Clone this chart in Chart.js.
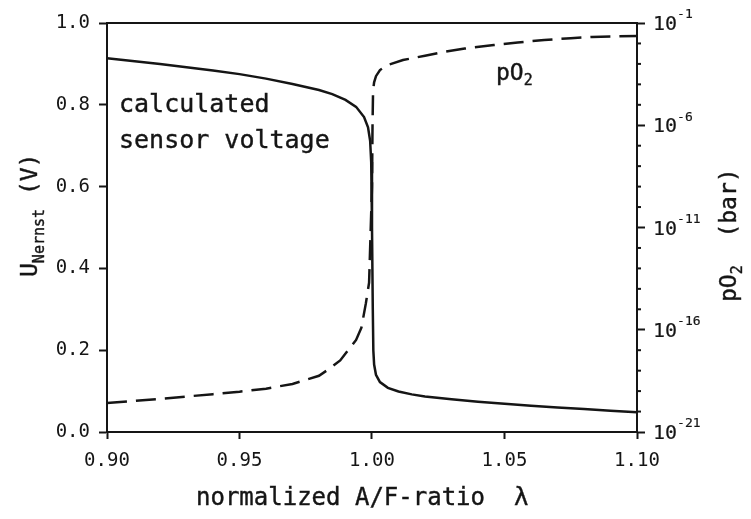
<!DOCTYPE html>
<html>
<head>
<meta charset="utf-8">
<script src="https://cdn.jsdelivr.net/npm/chart.js@4"></script>
<style>
    html, body { margin: 0; padding: 0; background: #fff; }
    #wrap { width: 751px; height: 519px; }
</style>
</head>
<body>
<div id="wrap"><canvas id="chart" width="751" height="519"></canvas></div>
<script>
// calculated sensor voltage (left axis, V)
const lambdaU = [0.900, 0.920, 0.940, 0.950, 0.960, 0.970, 0.980, 0.985, 0.990, 0.994, 0.997, 0.9985, 0.9993, 0.9997,
    1.0000, 1.0003, 1.0005, 1.0008, 1.0015, 1.0030, 1.006, 1.010, 1.015, 1.020, 1.030, 1.040, 1.050, 1.060, 1.070,
    1.080, 1.090, 1.100];
const voltage = [0.914, 0.900, 0.884, 0.875, 0.864, 0.851, 0.836, 0.826, 0.812, 0.795, 0.770, 0.745, 0.712, 0.66,
    0.50, 0.30, 0.20, 0.165, 0.140, 0.122, 0.108, 0.099, 0.092, 0.087, 0.080, 0.074, 0.069, 0.064, 0.060,
    0.056, 0.052, 0.048];

// oxygen partial pressure (right axis, log10 of bar)
const lambdaP = [0.900, 0.920, 0.940, 0.950, 0.960, 0.970, 0.980, 0.984, 0.988, 0.991, 0.994, 0.996, 0.9977, 0.9989,
    1.0000, 1.0002, 1.0004, 1.0008, 1.0015, 1.003, 1.006, 1.0117, 1.020, 1.027, 1.035, 1.046, 1.055, 1.065,
    1.075, 1.083, 1.090, 1.100];
const pO2Exp = [-19.58, -19.38, -19.15, -19.03, -18.88, -18.65, -18.25, -17.9, -17.5, -17.0, -16.5, -15.9, -14.7, -13.7,
    -9, -6, -4.3, -3.9, -3.6, -3.3, -3.05, -2.81, -2.6, -2.42, -2.25, -2.08, -1.95, -1.83,
    -1.74, -1.68, -1.66, -1.63];

const xTicks = [0.90, 0.95, 1.00, 1.05, 1.10];
const voltTicks = [0.0, 0.2, 0.4, 0.6, 0.8, 1.0];
const pO2Labelled = [-1, -6, -11, -16, -21];

const MONO = "'DejaVu Sans Mono', 'Liberation Mono', monospace";
const INK = "#151515";

function drawSubText(ctx, x, y, parts, stroke = 0.4) {
    // parts: [text, size, dy]
    let cx = x;
    ctx.lineWidth = stroke;
    for (const [text, size, dy] of parts) {
        ctx.font = `${size}px ${MONO}`;
        ctx.fillText(text, cx, y + dy);
        if (stroke) ctx.strokeText(text, cx, y + dy);
        cx += ctx.measureText(text).width;
    }
}

const decorations = {
    id: "decorations",
    afterDraw(chart) {
        const { ctx, chartArea: a } = chart;
        const y2 = chart.scales.y2;
        ctx.save();
        ctx.strokeStyle = INK;
        ctx.fillStyle = INK;
        ctx.lineWidth = 2;
        ctx.beginPath();
        ctx.moveTo(a.left, a.top);
        ctx.lineTo(a.right, a.top);
        ctx.stroke();

        // minor decade ticks and labels of the pO2 axis
        ctx.lineWidth = 2;
        for (let e = -21; e <= -1; e++) {
            const py = y2.getPixelForValue(e);
            if (!pO2Labelled.includes(e)) {
                ctx.beginPath();
                ctx.moveTo(a.right, py);
                ctx.lineTo(a.right + 4, py);
                ctx.stroke();
            }
        }
        ctx.textBaseline = "middle";
        for (const e of pO2Labelled) {
            const py = y2.getPixelForValue(e);
            drawSubText(ctx, 653, py + 2, [["10", 20, 0], [String(e), 13, -10]], 0.2);
        }

        ctx.textBaseline = "alphabetic";
        ctx.textAlign = "left";

        drawSubText(ctx, 119, 112, [["calculated", 25, 0]]);
        drawSubText(ctx, 119, 148, [["sensor voltage", 25, 0]]);
        drawSubText(ctx, 496, 80, [["pO", 23, 0], ["2", 15, 5]]);
        drawSubText(ctx, 196, 505, [["normalized A/F-ratio  \u03bb", 24, 0]]);

        // left axis title, reading upward
        ctx.save();
        ctx.translate(37, 277);
        ctx.rotate(-Math.PI / 2);
        drawSubText(ctx, 0, 0, [["U", 23, 0], ["Nernst", 15, 7], [" (V)", 23, 0]]);
        ctx.restore();

        // right axis title, reading upward
        ctx.save();
        ctx.translate(736, 302);
        ctx.rotate(-Math.PI / 2);
        drawSubText(ctx, 0, 0, [["pO", 23, 0], ["2", 15, 6], ["  (bar)", 23, 0]]);
        ctx.restore();

        ctx.restore();
    }
};

const tickFont = { family: MONO, size: 19 };

new Chart("chart", {
    type: "scatter",
    data: {
        datasets: [
            {
                label: "U Nernst",
                yAxisID: "y",
                showLine: true,
                borderColor: INK,
                borderWidth: 2.5,
                pointRadius: 0,
                tension: 0,
                data: lambdaU.map((l, i) => ({ x: l, y: voltage[i] })),
            },
            {
                label: "pO2",
                yAxisID: "y2",
                showLine: true,
                borderColor: INK,
                borderWidth: 2.5,
                borderDash: [20, 9],
                pointRadius: 0,
                tension: 0,
                data: lambdaP.map((l, i) => ({ x: l, y: pO2Exp[i] })),
            },
        ],
    },
    options: {
        responsive: false,
        animation: false,
        layout: { padding: { top: 23, left: 0, right: 0, bottom: 0 } },
        plugins: {
            legend: { display: false },
            tooltip: { enabled: false },
        },
        scales: {
            x: {
                type: "linear",
                min: 0.9,
                max: 1.1,
                afterBuildTicks: s => { s.ticks = xTicks.map(v => ({ value: v })); },
                afterFit: s => { s.height = 87; },
                ticks: {
                    color: INK,
                    font: tickFont,
                    padding: 11,
                    maxRotation: 0,
                    callback: v => v.toFixed(2),
                },
                grid: { drawOnChartArea: false, tickLength: 7, color: INK, tickWidth: 2 },
                border: { color: INK, width: 2 },
            },
            y: {
                position: "left",
                min: 0,
                max: 1,
                afterBuildTicks: s => { s.ticks = voltTicks.map(v => ({ value: v })); },
                afterFit: s => { s.width = 107; },
                ticks: {
                    color: INK,
                    font: tickFont,
                    padding: 9,
                    callback: v => v.toFixed(1),
                },
                grid: { drawOnChartArea: false, tickLength: 8, color: INK, tickWidth: 2 },
                border: { color: INK, width: 2 },
            },
            y2: {
                position: "right",
                min: -21,
                max: -1,
                afterBuildTicks: s => { s.ticks = pO2Labelled.map(v => ({ value: v })); },
                afterFit: s => { s.width = 114; },
                ticks: {
                    display: true,
                    color: INK,
                    font: tickFont,
                    padding: 10,
                    callback: () => "",
                },
                grid: { drawOnChartArea: false, tickLength: 8, color: INK, tickWidth: 2 },
                border: { color: INK, width: 2 },
            },
        },
    },
    plugins: [decorations],
});
</script>
</body>
</html>
